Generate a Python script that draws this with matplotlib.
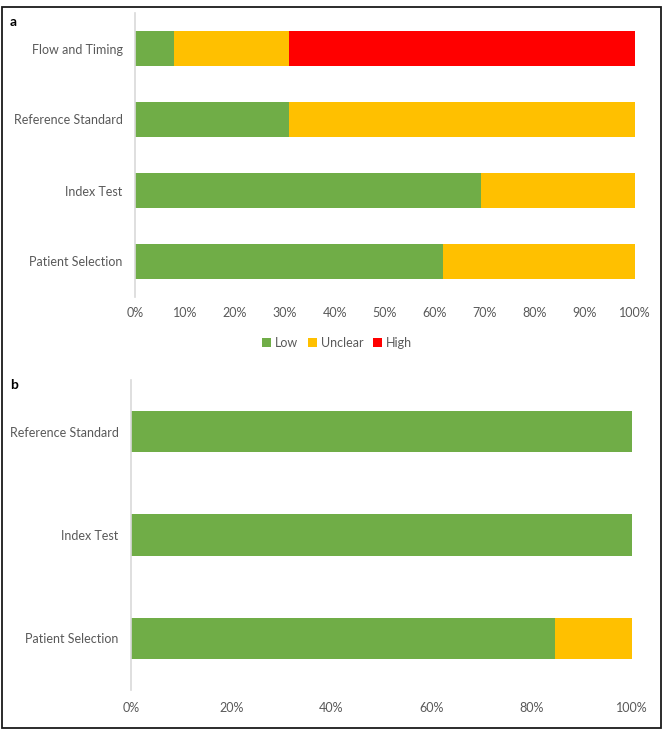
import numpy as np
import matplotlib.pyplot as plt
from matplotlib.patches import Rectangle
from matplotlib.ticker import FuncFormatter

plt.rcParams['font.family'] = ['Lato', 'DejaVu Sans']

# panel a: risk of bias (share of studies)
cats_a = ["Patient Selection", "Index Test", "Reference Standard", "Flow and Timing"]
low_a = [61.5, 69.2, 30.8, 7.7]
unclear_a = [38.5, 30.8, 69.2, 23.1]
high_a = [0.0, 0.0, 0.0, 69.2]

# panel b: applicability concerns
cats_b = ["Patient Selection", "Index Test", "Reference Standard"]
low_b = [84.6, 100.0, 100.0]
unclear_b = [15.4, 0.0, 0.0]

GREEN = "#70AD47"
YELLOW = "#FFC000"
RED = "#FF0000"
TXT = "#595959"

fig = plt.figure(figsize=(6.64, 7.3), dpi=100)

def style(ax, step, xpad):
    for s in ["top", "right", "bottom"]:
        ax.spines[s].set_visible(False)
    ax.spines["left"].set_color("#D9D9D9")
    ax.spines["left"].set_linewidth(1.2)
    ax.set_xlim(0, 100)
    ax.set_xticks(np.arange(0, 101, step))
    ax.xaxis.set_major_formatter(FuncFormatter(lambda v, p: "%d%%" % v))
    ax.tick_params(length=0, labelsize=9, colors=TXT)
    ax.tick_params(axis="y", pad=9)
    ax.tick_params(axis="x", pad=xpad)

ax1 = fig.add_axes([135/664, 1-297/730, 500/664, 284/730])
y = np.arange(len(cats_a))
l1 = ax1.barh(y, low_a, height=0.5, color=GREEN, label="Low")
l2 = ax1.barh(y, unclear_a, left=low_a, height=0.5, color=YELLOW, label="Unclear")
left_h = np.array(low_a) + np.array(unclear_a)
l3 = ax1.barh(y, high_a, left=left_h, height=0.5, color=RED, label="High")
ax1.set_ylim(-0.5, len(cats_a) - 0.5)
ax1.set_yticks(y)
ax1.set_yticklabels(cats_a)
style(ax1, 10, 7)

fig.legend(handles=[l1, l2, l3], loc="center", bbox_to_anchor=(337/664, 1-343/730),
           ncol=3, frameon=False, fontsize=9, handlelength=0.7, handleheight=0.7,
           handletextpad=0.3, columnspacing=0.8, labelcolor=TXT)

ax2 = fig.add_axes([131/664, 1-690/730, 501/664, 310/730])
y2 = np.arange(len(cats_b))
ax2.barh(y2, low_b, height=0.4, color=GREEN)
ax2.barh(y2, unclear_b, left=low_b, height=0.4, color=YELLOW)
ax2.set_ylim(-0.5, len(cats_b) - 0.5)
ax2.set_yticks(y2)
ax2.set_yticklabels(cats_b)
style(ax2, 20, 8.5)

fig.text(10/664, 1-22/730, "a", fontsize=10, fontweight="bold", va="center")
fig.text(10/664, 1-385/730, "b", fontsize=10, fontweight="bold", va="center")

fig.patches.append(Rectangle((1.5/664, 1-728/730), 659/664, 721/730,
                             transform=fig.transFigure, fill=False,
                             edgecolor="#1a1a1a", linewidth=1.3))

fig.savefig("out.png", dpi=100)
